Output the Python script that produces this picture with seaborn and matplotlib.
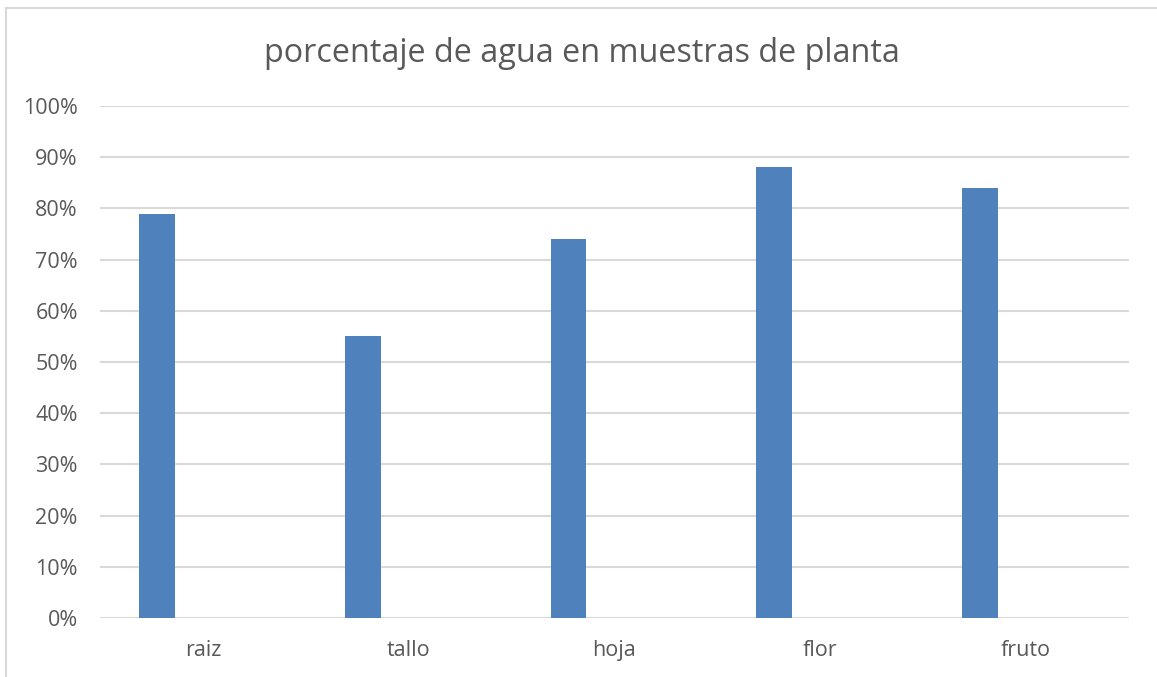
import matplotlib
matplotlib.use("Agg")
import matplotlib.pyplot as plt
from matplotlib.patches import Rectangle
from matplotlib.ticker import PercentFormatter, MultipleLocator
import pandas as pd
import seaborn as sns

# Data
categorias = ["raiz", "tallo", "hoja", "flor", "fruto"]
agua = [0.79, 0.55, 0.74, 0.88, 0.84]
serie_vacia = [0.0, 0.0, 0.0, 0.0, 0.0]
series = ["Serie1", "Serie2"]
titulo = "porcentaje de agua en muestras de planta"

df = pd.DataFrame({
    "parte": categorias * 2,
    "valor": agua + serie_vacia,
    "serie": [series[0]] * len(categorias) + [series[1]] * len(categorias),
})

sns.set_theme(style="white")
plt.rcParams["font.family"] = ["Open Sans", "DejaVu Sans"]

W, H = 1157, 677
fig = plt.figure(figsize=(W / 100, H / 100), dpi=100)
ax = fig.add_axes([100 / W, (H - 618) / H, 1029 / W, 512 / H])

text_color = "#595959"
grid_color = "#d9d9d9"

sns.barplot(
    data=df, x="parte", y="valor", hue="serie", hue_order=series,
    order=categorias, palette=["#4f81bd", "#4f81bd"], saturation=1,
    width=0.894, gap=0.61, linewidth=0, legend=False, ax=ax, errorbar=None,
)

ax.set_ylim(0, 1.0)
ax.set_xlim(-0.5, len(categorias) - 0.5)
ax.yaxis.set_major_locator(MultipleLocator(0.1))
ax.yaxis.set_major_formatter(PercentFormatter(1.0, decimals=0))
ax.grid(axis="y", color=grid_color, linewidth=1.5)
ax.set_axisbelow(True)
for s in ax.spines.values():
    s.set_visible(False)
ax.set_xlabel("")
ax.set_ylabel("")
ax.tick_params(axis="y", length=0, pad=16, labelsize=15.5, labelcolor=text_color)
ax.tick_params(axis="x", length=0, pad=16, labelsize=15.5, labelcolor=text_color)

fig.text(582 / W, 1 - 53 / H, titulo, ha="center", va="center",
         fontsize=23.3, color=text_color)

# Chart frame
fig.patches.append(Rectangle((6 / W, -0.1), 1.2, 1 - 8 / H + 0.1,
                             transform=fig.transFigure, fill=False,
                             edgecolor="#d9d9d9", linewidth=1.5))

fig.savefig("out.png", dpi=100, facecolor="white")
